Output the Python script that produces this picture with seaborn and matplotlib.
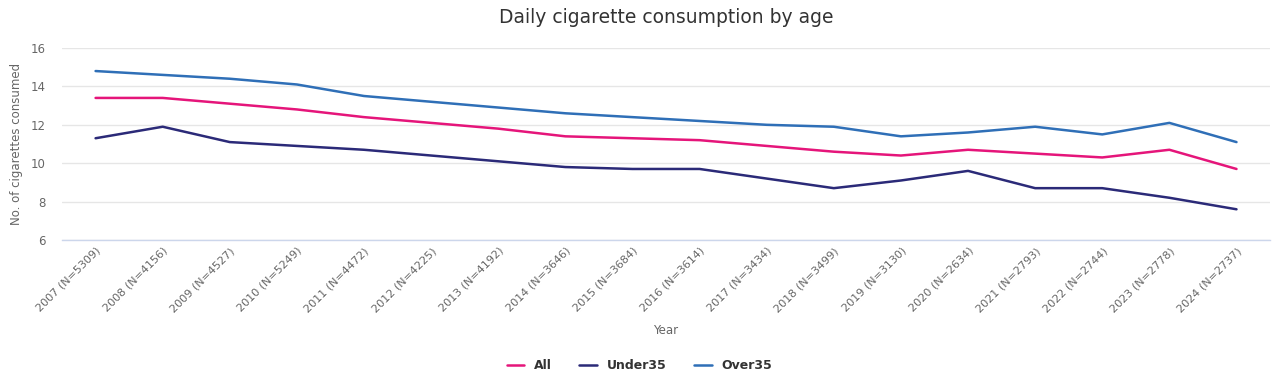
import matplotlib
matplotlib.use("Agg")
import matplotlib.pyplot as plt
import pandas as pd
import seaborn as sns

years = ["2007 (N=5309)", "2008 (N=4156)", "2009 (N=4527)", "2010 (N=5249)",
         "2011 (N=4472)", "2012 (N=4225)", "2013 (N=4192)", "2014 (N=3646)",
         "2015 (N=3684)", "2016 (N=3614)", "2017 (N=3434)", "2018 (N=3499)",
         "2019 (N=3130)", "2020 (N=2634)", "2021 (N=2793)", "2022 (N=2744)",
         "2023 (N=2778)", "2024 (N=2737)"]
all_ages = [13.4, 13.4, 13.1, 12.8, 12.4, 12.1, 11.8, 11.4, 11.3, 11.2,
            10.9, 10.6, 10.4, 10.7, 10.5, 10.3, 10.7, 9.7]
under35 = [11.3, 11.9, 11.1, 10.9, 10.7, 10.4, 10.1, 9.8, 9.7, 9.7,
           9.2, 8.7, 9.1, 9.6, 8.7, 8.7, 8.2, 7.6]
over35 = [14.8, 14.6, 14.4, 14.1, 13.5, 13.2, 12.9, 12.6, 12.4, 12.2,
          12.0, 11.9, 11.4, 11.6, 11.9, 11.5, 12.1, 11.1]
yticks = [6, 8, 10, 12, 14, 16]

df = pd.concat([
    pd.DataFrame({"Year": years, "value": all_ages, "group": "All"}),
    pd.DataFrame({"Year": years, "value": under35, "group": "Under35"}),
    pd.DataFrame({"Year": years, "value": over35, "group": "Over35"}),
])
palette = {"All": "#e5157a", "Under35": "#2b2a78", "Over35": "#2f6fb7"}

sns.set_style("white")
plt.rcParams["font.family"] = ["DejaVu Sans"]

fig = plt.figure(figsize=(12.79, 3.85), dpi=100)
ax = fig.add_axes([0.0485, 0.3766, 0.9445, 0.4987])

sns.lineplot(data=df, x="Year", y="value", hue="group", palette=palette,
             linewidth=1.8, ax=ax, sort=False)

ax.set_xlim(-0.5, len(years) - 0.5)
ax.set_ylim(6, 16)
ax.set_yticks(yticks)
ax.yaxis.grid(True, color="#e6e6e6", linewidth=1)
ax.set_axisbelow(True)
for s in ["top", "right", "left"]:
    ax.spines[s].set_visible(False)
ax.spines["bottom"].set_color("#ccd6eb")
ax.spines["bottom"].set_linewidth(1)
ax.tick_params(axis="y", length=0, labelsize=8.5, labelcolor="#666666", pad=12)
ax.tick_params(axis="x", length=0, labelsize=8, labelcolor="#666666", pad=4)
plt.setp(ax.get_xticklabels(), rotation=45, ha="right", rotation_mode="anchor")

ax.set_xlabel("Year", fontsize=8.5, color="#666666", labelpad=7)
ax.set_ylabel("No. of cigarettes consumed", fontsize=8.5, color="#666666", labelpad=5)
ax.set_title("Daily cigarette consumption by age", fontsize=13.5,
             color="#333333", pad=18)

handles, labels = ax.get_legend_handles_labels()
ax.legend_.remove()
leg = fig.legend(handles, labels, loc="center", bbox_to_anchor=(0.5, 0.05),
                 ncol=3, frameon=False, handlelength=1.4, columnspacing=2.2,
                 prop={"weight": "bold", "size": 9})
for t in leg.get_texts():
    t.set_color("#333333")

fig.savefig("out.png", dpi=100)
